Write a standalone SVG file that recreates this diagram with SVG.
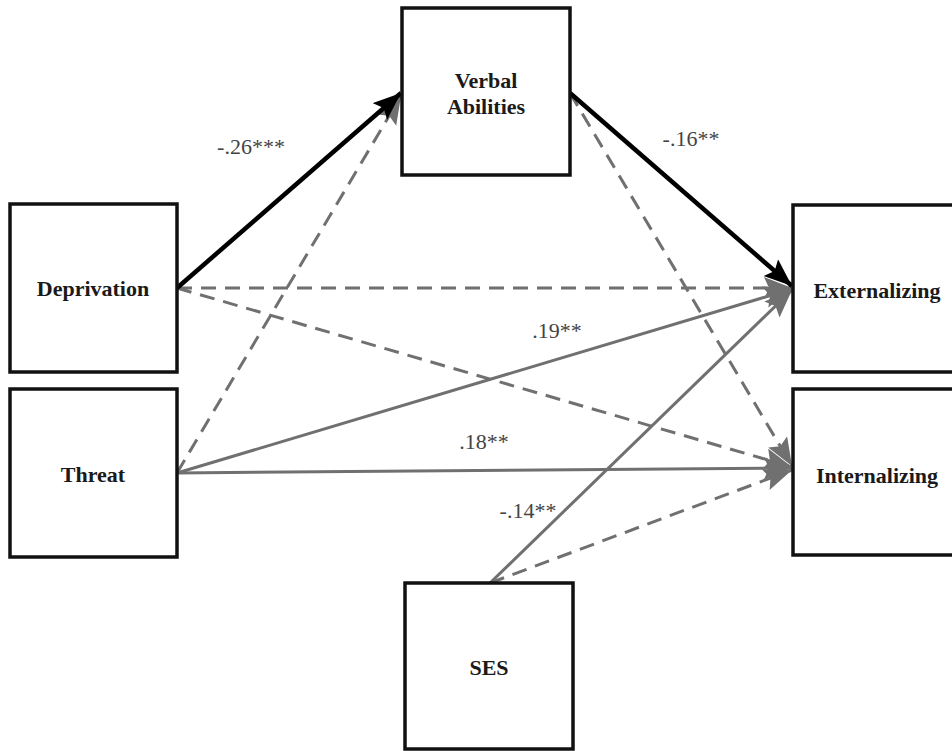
<svg xmlns="http://www.w3.org/2000/svg" width="952" height="751" viewBox="0 0 952 751">
<style>
.box{fill:#fff;stroke:#111;stroke-width:3.5}
.nt{font-family:"Liberation Serif","Times New Roman",serif;font-weight:bold;font-size:22px;fill:#1a1a1a;text-anchor:middle}
.lb{font-family:"Liberation Serif","Times New Roman",serif;font-size:22px;fill:#444;text-anchor:middle}
.blk{stroke:#000;stroke-width:4.5;fill:none;marker-end:url(#ab)}
.gs{stroke:#707070;stroke-width:3;fill:none;marker-end:url(#ag)}
.gd{stroke:#707070;stroke-width:3;fill:none;stroke-dasharray:15 9;marker-end:url(#ag)}
</style>
<defs>
<marker id="ab" markerUnits="userSpaceOnUse" markerWidth="30" markerHeight="24" refX="28" refY="11" orient="auto">
<path d="M0,0 L28,11 L0,22 L5,11 z" fill="#000"/>
</marker>
<marker id="ag" markerUnits="userSpaceOnUse" markerWidth="30" markerHeight="24" refX="28" refY="11" orient="auto">
<path d="M0,0 L28,11 L0,22 L5,11 z" fill="#707070"/>
</marker>
</defs>
<rect width="952" height="751" fill="#fff"/>
<g id="connectors">
<path class="gd" d="M177,473 L401,96"/>
<path class="gd" d="M177,288 L792,288"/>
<path class="gd" d="M177,288 L792,467"/>
<path class="gs" d="M177,473 L792,289"/>
<path class="gs" d="M177,473 L792,468"/>
<path class="gd" d="M570,93 L792,466"/>
<path class="gs" d="M490,583 L792,290"/>
<path class="gd" d="M490,583 L792,470"/>
<path class="blk" d="M177,288 L401,93"/>
<path class="blk" d="M570,93 L792,286"/>
</g>
<g id="labels">
<text class="lb" x="251" y="154">-.26***</text>
<text class="lb" x="691" y="146">-.16**</text>
<text class="lb" x="557" y="338">.19**</text>
<text class="lb" x="484" y="449">.18**</text>
<text class="lb" x="528" y="518">-.14**</text>
</g>
<g id="verbal">
<rect class="box" x="402" y="8" width="168" height="167"/>
<text class="nt" x="486" y="88">Verbal</text>
<text class="nt" x="486" y="114">Abilities</text>
</g>
<g id="deprivation">
<rect class="box" x="10" y="204" width="167" height="168"/>
<text class="nt" x="93" y="296">Deprivation</text>
</g>
<g id="threat">
<rect class="box" x="10" y="389" width="167" height="168"/>
<text class="nt" x="93" y="482">Threat</text>
</g>
<g id="externalizing">
<rect class="box" x="793" y="205" width="180" height="167"/>
<text class="nt" x="877" y="298">Externalizing</text>
</g>
<g id="internalizing">
<rect class="box" x="793" y="389" width="180" height="166"/>
<text class="nt" x="877" y="483">Internalizing</text>
</g>
<g id="ses">
<rect class="box" x="405" y="583" width="168" height="166"/>
<text class="nt" x="489" y="675">SES</text>
</g>
</svg>
